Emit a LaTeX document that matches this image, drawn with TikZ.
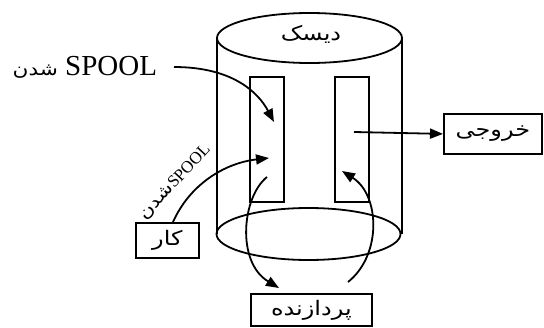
\documentclass[tikz,border=0pt]{standalone}
\usepackage{fontspec}
\setmainfont{Liberation Serif}
\newfontfamily\arabicfont[Script=Arabic,FakeStretch=1.2]{DejaVu Sans}
\TeXXeTstate=1
\usetikzlibrary{arrows.meta}
\begin{document}
\begin{tikzpicture}[x=1pt,y=-1pt,line width=1.8pt,
  box/.style={draw,line width=1.8pt,inner sep=0pt,anchor=north west},
  arr/.style={-{Triangle[length=13pt,width=10pt]}},
  fa/.style={font=\arabicfont\fontsize{20}{24}\selectfont}]
\useasboundingbox (0,0) rectangle (544,327);
% cylinder
\draw (217,38) -- (217,234);
\draw (402,38) -- (402,234);
\draw (309.5,38) ellipse [x radius=92.5, y radius=25];
\draw (308.5,234) ellipse [x radius=92, y radius=26];
\node[fa] (disk) at (311,34) {\beginR دیسک\endR};
% inner buffers
\node[box,minimum width=34pt,minimum height=125pt] (inbuf) at (249,76) {};
\node[box,minimum width=34pt,minimum height=125pt] (outbuf) at (334,76) {};
% boxes
\node[box,minimum width=98pt,minimum height=40pt,fa] (out) at (443,113) {\beginR خروجی\endR};
\node[box,minimum width=63pt,minimum height=35pt,fa] (job) at (135,222) {\beginR کار\endR};
\node[box,minimum width=121pt,minimum height=32pt,fa] (cpu) at (250,293) {\beginR پردازنده\endR};
% labels
\node[anchor=east,font=\fontsize{29}{32}\selectfont,inner sep=0pt] (lbl) at (158,67)
  {{\arabicfont\fontsize{18}{22}\selectfont\beginR شدن\endR} SPOOL};
\node[rotate=47,font=\fontsize{17}{20}\selectfont,inner sep=0pt] (lbl2) at (175,182)
  {{\arabicfont\fontsize{17}{20}\selectfont\beginR شدن\endR}SPOOL};
% coordinates
\coordinate (s1) at (174,67);
\coordinate (t1) at (274,122);
\coordinate (t2) at (269,158);
\coordinate (s3) at (267,177);
\coordinate (t3) at (279,288);
\coordinate (s4) at (348,282);
\coordinate (t4) at (342,171);
\coordinate (s5) at (354,132);
% arrows
\draw[arr] (s1) .. controls (232,67) and (258,92) .. (t1);
\draw[arr] (job.north -| 173,0) .. controls (190,184) and (225,163) .. (t2);
\draw[arr] (s3) .. controls (242,197) and (236,262) .. (t3);
\draw[arr] (s4) .. controls (382,255) and (380,195) .. (t4);
\draw[arr] (s5) -- (out.west);
\end{tikzpicture}
\end{document}
